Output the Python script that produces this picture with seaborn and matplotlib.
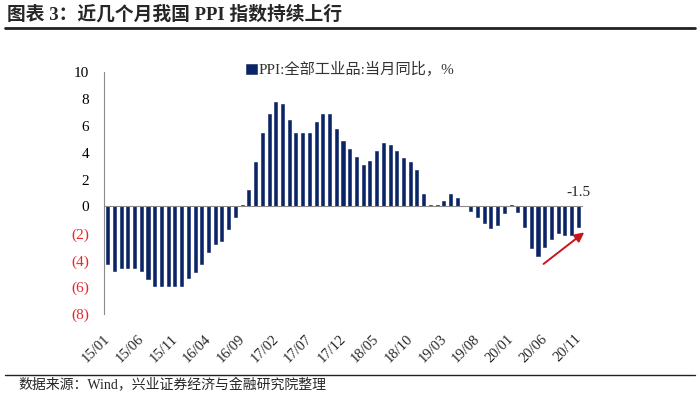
import matplotlib
matplotlib.use('Agg')
import matplotlib.pyplot as plt
import matplotlib.transforms as mtransforms
import seaborn as sns
import pandas as pd

# PPI 全部工业品 当月同比 (%), 2015/01 - 2020/11
months = [f"{y:02d}/{m:02d}" for y in range(15, 21) for m in range(1, 13)][:71]
ppi = [
    -4.3, -4.8, -4.6, -4.6, -4.6, -4.8, -5.4, -5.9, -5.9, -5.9, -5.9, -5.9,
    -5.3, -4.9, -4.3, -3.4, -2.8, -2.6, -1.7, -0.8, 0.1, 1.2, 3.3, 5.5,
    6.9, 7.8, 7.6, 6.4, 5.5, 5.5, 5.5, 6.3, 6.9, 6.9, 5.8, 4.9,
    4.3, 3.7, 3.1, 3.4, 4.1, 4.7, 4.6, 4.1, 3.6, 3.3, 2.7, 0.9,
    0.1, 0.1, 0.4, 0.9, 0.6, 0.0, -0.3, -0.8, -1.2, -1.6, -1.4, -0.5,
    0.1, -0.4, -1.5, -3.1, -3.7, -3.0, -2.4, -2.0, -2.1, -2.1, -1.5,
]
yticks = [-8, -6, -4, -2, 0, 2, 4, 6, 8, 10]
ytick_labels = ['(8)', '(6)', '(4)', '(2)', '0', '2', '4', '6', '8', '10']
series_name = 'PPI:全部工业品:当月同比，%'

df = pd.DataFrame({'month': months, 'ppi': ppi})

sns.set_style('white')
plt.rcParams['font.family'] = ['Liberation Serif', 'Noto Sans CJK SC']

navy = '#0b2466'
grey = '#8c8c8c'

fig = plt.figure(figsize=(7, 3.96), dpi=100)
ax = fig.add_axes([0.149, 0.207, 0.682, 0.611])

sns.barplot(data=df, x='month', y='ppi', order=months, color=navy,
            width=0.45, saturation=1, ax=ax, label=series_name,
            edgecolor=navy, linewidth=0.4)

ax.set_xlim(-0.5, len(months) - 0.5)
ax.set_ylim(-8, 10)
ax.set_xlabel('')
ax.set_ylabel('')

# y axis
ax.set_yticks(yticks)
ax.set_yticklabels(ytick_labels)
ax.tick_params(axis='y', direction='in', length=4, color=grey, pad=11,
               labelsize=11)
for lab, v in zip(ax.get_yticklabels(), yticks):
    lab.set_color('#e8262b' if v < 0 else 'black')

for s in ['top', 'right']:
    ax.spines[s].set_visible(False)
ax.spines['left'].set_color(grey)
ax.spines['bottom'].set_color(grey)
ax.spines['bottom'].set_position(('data', 0))

# ticks on zero line at category boundaries, labels at bottom
ax.set_xticks([i - 0.5 for i in range(0, len(months), 5)])
ax.tick_params(axis='x', direction='in', length=3, color=grey,
               labelbottom=False)
sec = ax.secondary_xaxis(0)
sec.set_xticks(list(range(0, len(months), 5)))
sec.set_xticklabels(months[::5], rotation=45, ha='right',
                    rotation_mode='anchor', fontsize=10.5)
sec.tick_params(length=0, pad=13)
sec.spines['bottom'].set_visible(False)
shift = mtransforms.ScaledTranslation(-4 / 100, 0, fig.dpi_scale_trans)
for lab in sec.get_xticklabels():
    lab.set_transform(lab.get_transform() + shift)

# last value label and arrow
ax.text(len(months) - 1, 0.55, f"{ppi[-1]:.1f}", ha='center', va='bottom',
        fontsize=11)
ax.annotate('', xy=(71.2, -1.8), xytext=(64.5, -4.4),
            arrowprops=dict(arrowstyle='-|>', color='#c8141c', lw=1.4,
                            mutation_scale=14),
            annotation_clip=False)

leg = ax.legend(loc='center', bbox_to_anchor=(0.515, 1.01), frameon=False,
                fontsize=11, handlelength=0.7, handleheight=0.7,
                handletextpad=0.1)
for t in leg.get_texts():
    t.set_color('#333333')

# title and source
fig.text(0.01, 0.965, '图表 3：近几个月我国 PPI 指数持续上行', fontsize=13.5,
         fontweight='bold', va='center', ha='left')
fig.add_artist(plt.Line2D([0.007, 0.993], [0.93, 0.93], color='#222222',
                          lw=2, transform=fig.transFigure))
fig.add_artist(plt.Line2D([0.007, 0.993], [0.052, 0.052], color='#222222',
                          lw=1, transform=fig.transFigure))
fig.text(0.026, 0.027, '数据来源：Wind，兴业证券经济与金融研究院整理',
         fontsize=10, va='center', ha='left')

fig.savefig('out.png', dpi=100)
